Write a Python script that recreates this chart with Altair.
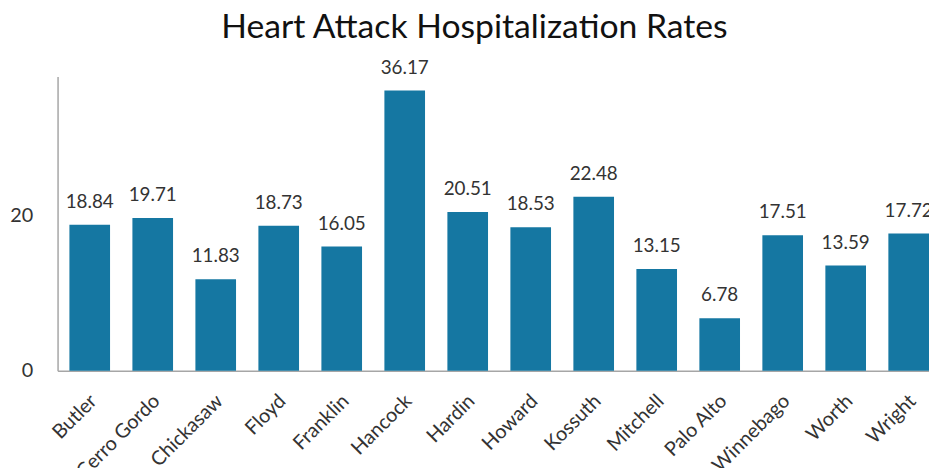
import altair as alt
import pandas as pd

counties = ["Butler", "Cerro Gordo", "Chickasaw", "Floyd", "Franklin", "Hancock", "Hardin",
            "Howard", "Kossuth", "Mitchell", "Palo Alto", "Winnebago", "Worth", "Wright"]
rates = [18.84, 19.71, 11.83, 18.73, 16.05, 36.17, 20.51, 18.53, 22.48, 13.15, 6.78, 17.51, 13.59, 17.72]
y_ticks = [0, 20]

df = pd.DataFrame({"county": counties, "rate": rates})

FONT = "Lato"
BAR = "#1577a2"

x = alt.X("county:N", sort=counties, title=None,
          scale=alt.Scale(paddingInner=0.355, paddingOuter=0.094, align=1),
          axis=alt.Axis(labelAngle=-45, labelFontSize=20, labelColor="#333333", labelFont=FONT,
                        ticks=False, labelPadding=20, labelOffset=-3,
                        domainColor="#a6a6a6", domainWidth=1.5))
y = alt.Y("rate:Q", title=None,
          scale=alt.Scale(domain=[0, 38], nice=False),
          axis=alt.Axis(values=y_ticks, grid=False, ticks=False, labelPadding=25, labelFontSize=20,
                        labelColor="#333333", labelFont=FONT, domainColor="#a6a6a6", domainWidth=1.5))

base = alt.Chart(df)
bars = base.mark_bar(color=BAR).encode(x=x, y=y)
labels = base.mark_text(baseline="bottom", dy=-13, fontSize=19, font=FONT, color="#333333").encode(
    x=x, y=y, text=alt.Text("rate:Q", format=".2f"))

chart = (bars + labels).properties(
    width=879, height=297,
    title=alt.TitleParams("Heart Attack Hospitalization Rates", fontSize=34, font=FONT,
                          fontWeight="normal", color="#111111", anchor="middle", frame="group",
                          baseline="alphabetic", dx=-19, offset=-13),
    autosize=alt.AutoSizeParams(type="none"),
    padding={"left": 50, "top": 67, "right": 0, "bottom": 96},
).configure_view(stroke=None)

chart.save("out.html", embed_options={"renderer": "svg", "actions": False})
